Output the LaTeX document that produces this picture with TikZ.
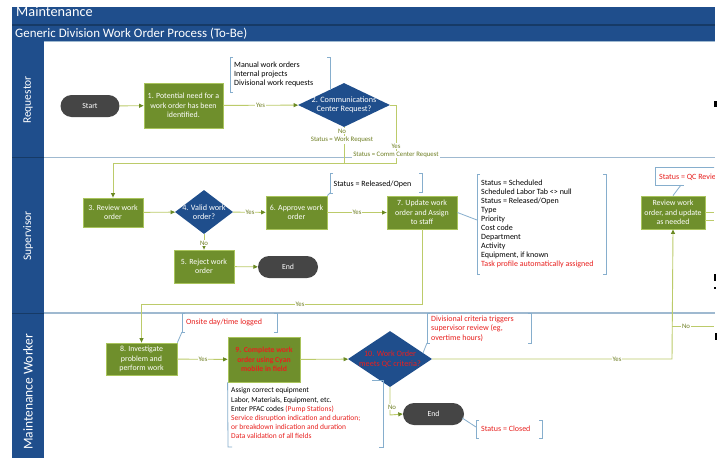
\documentclass[tikz,border=0pt]{standalone}
\usepackage{fontspec}
\setmainfont{Carlito}
\usetikzlibrary{shapes.geometric,arrows.meta}
\definecolor{hdr}{HTML}{1F4E8C}
\definecolor{hdrdark}{HTML}{163A66}
\definecolor{grn}{HTML}{6F8F2C}
\definecolor{grnb}{HTML}{A9C45C}
\definecolor{conn}{HTML}{BCCB6A}
\definecolor{arr}{HTML}{6B8A23}
\definecolor{dia}{HTML}{1F4E8C}
\definecolor{pill}{HTML}{454545}
\definecolor{brk}{HTML}{86AECD}
\definecolor{sep}{HTML}{9FB9D0}
\definecolor{lbl}{HTML}{6E7E22}
\definecolor{redt}{HTML}{E8201E}
\newcommand\mylbr[3]{\draw[brk] ({#1+3},#2) -- (#1,#2) -- (#1,#3) -- ({#1+3},#3);}
\newcommand\myrbr[3]{\draw[brk] ({#1-3},#2) -- (#1,#2) -- (#1,#3) -- ({#1-3},#3);}
\begin{document}
\begin{tikzpicture}[x=1pt,y=-1pt,
  proc/.style={rectangle, fill=grn, draw=grnb, line width=0.8pt, text=white, align=center,
    font=\fontsize{7.9}{9.3}\selectfont, inner sep=1pt},
  decis/.style={diamond, fill=dia, draw=none, inner sep=0pt},
  dtext/.style={text=white, align=center, font=\fontsize{8.2}{9.4}\selectfont, inner sep=0pt},
  pillst/.style={rectangle, rounded corners=11pt, fill=pill, text=white,
    font=\fontsize{7.8}{8}\selectfont, minimum height=22pt, inner sep=1pt},
  cn/.style={draw=conn, line width=0.9pt},
  ar/.style={cn, -{Triangle[length=4.5pt,width=4pt,color=arr]}},
  lab/.style={fill=white, text=lbl, font=\fontsize{6.8}{7}\selectfont, inner sep=0.8pt},
  note/.style={anchor=north west, align=left, inner sep=0pt, font=\fontsize{8}{9.1}\selectfont},
  notesm/.style={note, font=\fontsize{7.5}{9.2}\selectfont},
  brk/.style={draw=brk, line width=0.8pt},
  lanelbl/.style={rotate=90, text=white, font=\fontsize{11.5}{12}\selectfont}
]
\useasboundingbox (0,0) rectangle (720,458);
\fill[white] (0,0) rectangle (720,458);
% headers
\fill[hdr] (12,7) rectangle (715,41);
\begin{scope}
\clip (12,7) rectangle (715,25);
\node[anchor=base west, text=white, font=\fontsize{14.3}{15}\selectfont, inner sep=0pt] (ttl1) at (16,16) {Maintenance};
\end{scope}
\draw[hdrdark, line width=1.2pt] (12,25) -- (715,25);
\node[anchor=base west, text=white, font=\fontsize{12.9}{14}\selectfont, inner sep=0pt] (ttl2) at (15,37) {Generic Division Work Order Process (To-Be)};
\draw[sep, line width=0.8pt] (12,41) -- (715,41);
% lane labels column
\fill[hdr] (12,41) rectangle (44,458);
\draw[hdrdark, line width=1pt] (12,157.5) -- (44,157.5);
\draw[hdrdark, line width=1pt] (12,313) -- (44,313);
\node[lanelbl] (lreq) at (28,100) {Requestor};
\node[lanelbl] (lsup) at (28,236) {Supervisor};
\node[lanelbl, font=\fontsize{13.5}{14}\selectfont] (lmw) at (28,392) {Maintenance Worker};
% lane separators
\draw[sep, line width=1.6pt] (44,157.5) -- (715,157.5);
\draw[sep, line width=1.6pt] (44,313) -- (715,313);

% nodes
\node[pillst, minimum width=59pt] (start) at (90,106) {Start};
\node[proc, minimum width=79pt, minimum height=45pt] (n1) at (183.5,105.5) {1. Potential need for a\\work order has been\\identified.};
\node[decis, minimum width=92pt, minimum height=44pt] (d2) at (344,105) {};
\node[dtext] (d2t) at (d2) {2. Communications\\Center Request?};
\node[proc, minimum width=60pt, minimum height=29pt] (n3) at (113,212.5) {3. Review work\\order};
\node[decis, minimum width=58pt, minimum height=44pt] (d4) at (204,212) {};
\node[dtext] (d4t) at (d4) {4. Valid work\\order?};
\node[proc, minimum width=61pt, minimum height=33pt] (n6) at (296.5,212.5) {6. Approve work\\order};
\node[proc, minimum width=60pt, minimum height=33pt] (n5) at (204,266.5) {5. Reject work\\order};
\node[pillst, minimum width=60pt] (end1) at (288,267) {End};
\node[proc, minimum width=70pt, minimum height=33pt] (n7) at (422,212.5) {7. Update work\\order and Assign\\to staff};
\node[proc, minimum width=64pt, minimum height=33pt] (nR) at (673,212.5) {Review work\\order, and update\\as needed};
\node[proc, minimum width=71pt, minimum height=32pt] (n8) at (141.5,359) {8. Investigate\\problem and\\perform work};
\node[proc, minimum width=72pt, minimum height=45pt, text=redt, font=\bfseries\fontsize{7.7}{9.3}\selectfont] (n9) at (264,359.5) {9. Complete work\\order using Cyan\\mobile in field};
\node[decis, minimum width=84pt, minimum height=56pt] (d10) at (390,359) {};
\node[dtext, text=redt] (d10t) at (d10) {10. Work Order\\meets QC criteria?};
\node[pillst, minimum width=61pt] (end2) at (433.5,414) {End};

% coordinates
\coordinate (c2r) at (396,105);
\coordinate (c2rb) at (396,163);
\coordinate (c2b) at (344,163);
\coordinate (c3t) at (113,163);
\coordinate (c7b) at (422,304);
\coordinate (c8t) at (141.5,304);
\coordinate (cYr) at (672,359);
\coordinate (cNo) at (672,326);
\coordinate (cNoE) at (714,326);
\coordinate (c10b) at (390,415);
\coordinate (cR1) at (714,212);
\coordinate (cR2) at (714,220);

% connectors
\draw[ar] (start) -- (n1);
\draw[ar] (n1) -- (d2);
\draw[cn] (d2.south) -- (c2b);
\draw[ar] (d2.east) -- (c2r) -- (c2rb) -- (c3t) -- (n3.north);
\draw[ar] (n3) -- (d4);
\draw[ar] (d4) -- (n6);
\draw[ar] (d4.south) -- (n5.north);
\draw[ar] (n5) -- (end1);
\draw[ar] (n6) -- (n7);
\draw[ar] (n7.south) -- (c7b) -- (c8t) -- (n8.north);
\draw[ar] (n8) -- (n9);
\draw[ar] (n9) -- (d10);
\draw[ar] (d10.east) -- (cYr) -- (nR.south);
\draw[cn] (cNo) -- (cNoE);
\draw[ar] (d10.south) -- (c10b) -- (end2.west);
\draw[cn] (nR.east |- cR1) -- (cR1);
\draw[cn] (nR.east |- cR2) -- (cR2);

% connector labels
\node[lab] (y1) at (260.5,105.5) {Yes};
\node[lab] (no2) at (342,131) {No};
\node[lab] (s2) at (342,140) {Status = Work Request};
\node[lab] (y2) at (396,146) {Yes};
\node[lab] (s3) at (396,154.5) {Status = Comm Center Request};
\node[lab] (y4) at (250,212) {Yes};
\node[lab] (no4) at (204,243) {No};
\node[lab] (y6) at (357,212.5) {Yes};
\node[lab] (y7) at (300,304) {Yes};
\node[lab] (y8) at (203,359) {Yes};
\node[lab] (y10) at (617,359) {Yes};
\node[lab] (no10r) at (686,326) {No};
\node[lab] (no10) at (392,407) {No};

% callout A
\mylbr{230}{57}{92}
\draw[brk] (327,57) -- (330,57) -- (330,90);
\node[note] (na) at (234,61.3) {Manual work orders\\Internal projects\\Divisional work requests};
% callout B
\mylbr{330}{173}{193}
\myrbr{422}{173}{192}
\draw[brk] (330,193) -- (n6.north east);
\node[note] (nb) at (333.5,180.3) {Status = Released/Open};
% callout C
\mylbr{477}{174}{274}
\myrbr{606}{174}{274}
\draw[brk] (n7.east) -- (477,220);
\node[note] (nc) at (481,179.3) {Status = Scheduled\\Scheduled Labor Tab <> null\\Status = Released/Open\\Type\\Priority\\Cost code\\Department\\Activity\\Equipment, if known\\\textcolor{redt}{Task profile automatically assigned}};
% callout D (clipped)
\begin{scope}
\clip (600,160) rectangle (714,200);
\draw[brk] (720,167) -- (655,167) -- (655,185) -- (684,185);
\node[note, text=redt] (nd) at (659,173.3) {Status = QC Review};
\end{scope}
\draw[brk] (681,185) -- (nR.north);
% callout E
\mylbr{182}{313}{332}
\myrbr{277}{313}{332}
\draw[brk] (182,332) -- (n8.north east);
\node[note, text=redt] (ne) at (186,318.3) {Onsite day/time logged};
% callout F
\draw[brk] (n9.south west) -- (228,447) -- (232,447);
\draw[brk] (372,380) -- (383,380) -- (383,447) -- (379,447);
\node[notesm] (nf) at (231,387.5) {Assign correct equipment\\Labor, Materials, Equipment, etc.\\Enter PFAC codes \textcolor{redt}{(Pump Stations)}\\\textcolor{redt}{Service disruption indication and duration;}\\\textcolor{redt}{or breakdown indication and duration}\\\textcolor{redt}{Data validation of all fields}};
% callout G
\mylbr{427}{313}{343}
\myrbr{531}{313}{343}
\draw[brk] (427,343) -- (423,353);
\node[note, text=redt, font=\fontsize{8}{9.5}\selectfont] (ng) at (431,315.3) {Divisional criteria triggers\\supervisor review (eg,\\overtime hours)};
% callout H
\mylbr{476}{420}{438}
\myrbr{542}{420}{438}
\draw[brk] (end2.east) ++(-2,4) -- (476,427);
\node[note, text=redt] (nh) at (481,425.3) {Status = Closed};

% clipped fragments at right edge
\fill[black] (714,101) rectangle (716.5,107);
\fill[black] (713.5,274) rectangle (716,281);
\fill[black] (714,287) rectangle (716,289);
\fill[black] (714.5,333) rectangle (716.5,340);
\end{tikzpicture}
\end{document}
